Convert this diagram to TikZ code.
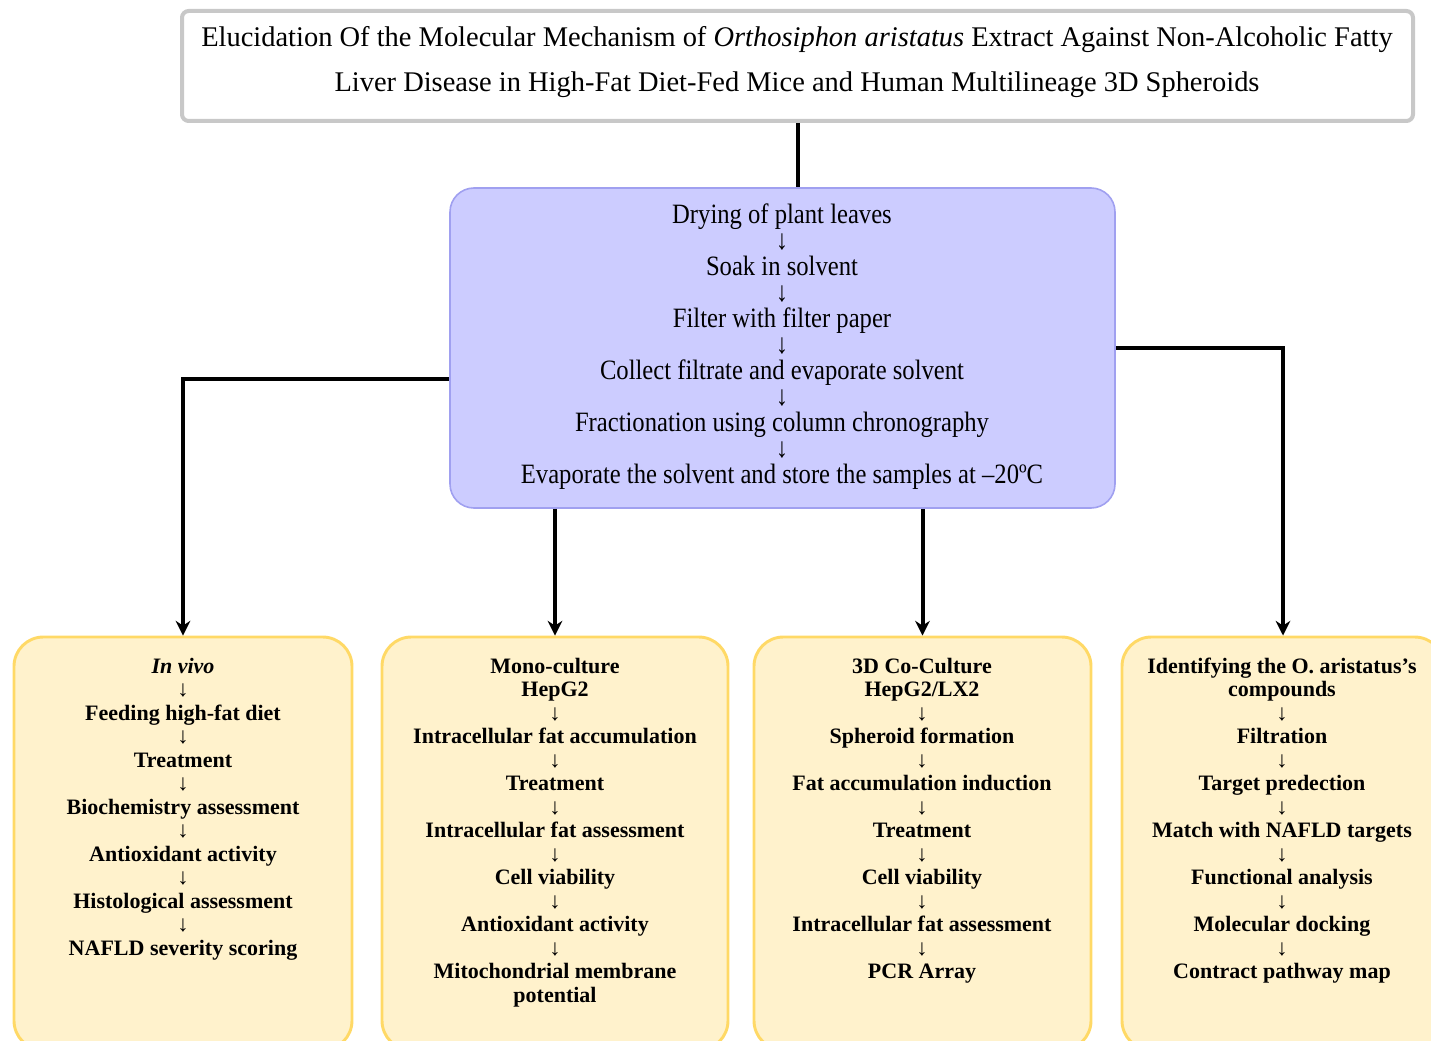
\documentclass[tikz,border=0pt]{standalone}
\usepackage{fontspec}
\setmainfont{Liberation Serif}
\newfontfamily\narrowserif[FakeStretch=0.88]{Liberation Serif}
\usetikzlibrary{arrows.meta}
\definecolor{titlegray}{RGB}{200,200,200}
\definecolor{purplefill}{RGB}{204,204,255}
\definecolor{purpledraw}{RGB}{160,160,240}
\definecolor{yellowfill}{RGB}{255,242,204}
\definecolor{yellowdraw}{RGB}{255,217,102}
\newcommand{\dn}{{\mdseries\fontsize{17}{17.625}\selectfont ↓}}
\newcommand{\pdn}{{\fontsize{21}{19.5}\selectfont ↓}}
\newcommand{\tightlines}{\lineskiplimit=-100pt\relax\lineskip=0pt\relax}
\begin{document}
\begin{tikzpicture}[x=0.75pt,y=-0.75pt,
  titlebox/.style={draw=titlegray, line width=3pt, rounded corners=5pt, fill=white, inner sep=0pt},
  procbox/.style={draw=purpledraw, line width=1.2pt, rounded corners=18pt, fill=purplefill, inner sep=0pt},
  stagebox/.style={draw=yellowdraw, line width=2.2pt, rounded corners=22pt, fill=yellowfill, inner sep=0pt},
  titletext/.style={align=center, inner sep=0pt, font=\fontsize{21.35}{33.75}\selectfont},
  proctext/.style={align=center, inner sep=0pt, font=\narrowserif\fontsize{21}{19.5}\selectfont\tightlines},
  stagetext/.style={align=center, inner sep=0pt, font=\bfseries\fontsize{16.5}{17.625}\selectfont\tightlines},
  conn/.style={line width=3pt, -{Stealth[length=11pt,width=11pt]}},
  plainconn/.style={line width=3pt}
]
\useasboundingbox (0,0) rectangle (1431,1041);

% boxes
\node[titlebox, minimum width=923.25pt, minimum height=82.5pt] (title) at (797.5,66) {};
\node[procbox, minimum width=498.75pt, minimum height=240pt] (proc) at (782.5,348) {};
\node[stagebox, minimum width=253.5pt, minimum height=309.75pt] (y1) at (183,843.5) {};
\node[stagebox, minimum width=259.5pt, minimum height=309.75pt] (y2) at (555,843.5) {};
\node[stagebox, minimum width=252.75pt, minimum height=309.75pt] (y3) at (922.5,843.5) {};
\node[stagebox, minimum width=241.5pt, minimum height=309.75pt] (y4) at (1283,843.5) {};

% texts
\node[titletext] (titlet) at (797,62) {Elucidation Of the Molecular Mechanism of \textit{Orthosiphon aristatus} Extract Against Non-Alcoholic Fatty\\Liver Disease in High-Fat Diet-Fed Mice and Human Multilineage 3D Spheroids};

\node[proctext] (proct) at (782,347) {Drying of plant leaves\\\pdn\\Soak in solvent\\\pdn\\Filter with filter paper\\\pdn\\Collect filtrate and evaporate solvent\\\pdn\\Fractionation using column chronography\\\pdn\\Evaporate the solvent and store the samples at –20ºC};

\node[stagetext] (t1) at (183,809) {\textit{In vivo}\\\dn\\Feeding high-fat diet\\\dn\\Treatment\\\dn\\Biochemistry assessment\\\dn\\Antioxidant activity\\\dn\\Histological assessment\\\dn\\NAFLD severity scoring};

\node[stagetext] (t2) at (555,832.5) {Mono-culture\\HepG2\\\dn\\Intracellular fat accumulation\\\dn\\Treatment\\\dn\\Intracellular fat assessment\\\dn\\Cell viability\\\dn\\Antioxidant activity\\\dn\\Mitochondrial membrane\\potential};

\node[stagetext] (t3) at (922,820.75) {3D Co-Culture\\HepG2/LX2\\\dn\\Spheroid formation\\\dn\\Fat accumulation induction\\\dn\\Treatment\\\dn\\Cell viability\\\dn\\Intracellular fat assessment\\\dn\\PCR Array};

\node[stagetext] (t4) at (1282,820.75) {Identifying the O. aristatus’s\\compounds\\\dn\\Filtration\\\dn\\Target predection\\\dn\\Match with NAFLD targets\\\dn\\Functional analysis\\\dn\\Molecular docking\\\dn\\Contract pathway map};

% connectors
\draw[plainconn] (title.south) -- (title.south |- proc.north);
\draw[conn] ([yshift=-23.25pt]proc.west) -| (y1.north);
\draw[conn] (proc.east) -| (y4.north);
\draw[conn] (y2.north |- proc.south) -- (y2.north);
\draw[conn] (y3.north |- proc.south) -- (y3.north);
\end{tikzpicture}
\end{document}
